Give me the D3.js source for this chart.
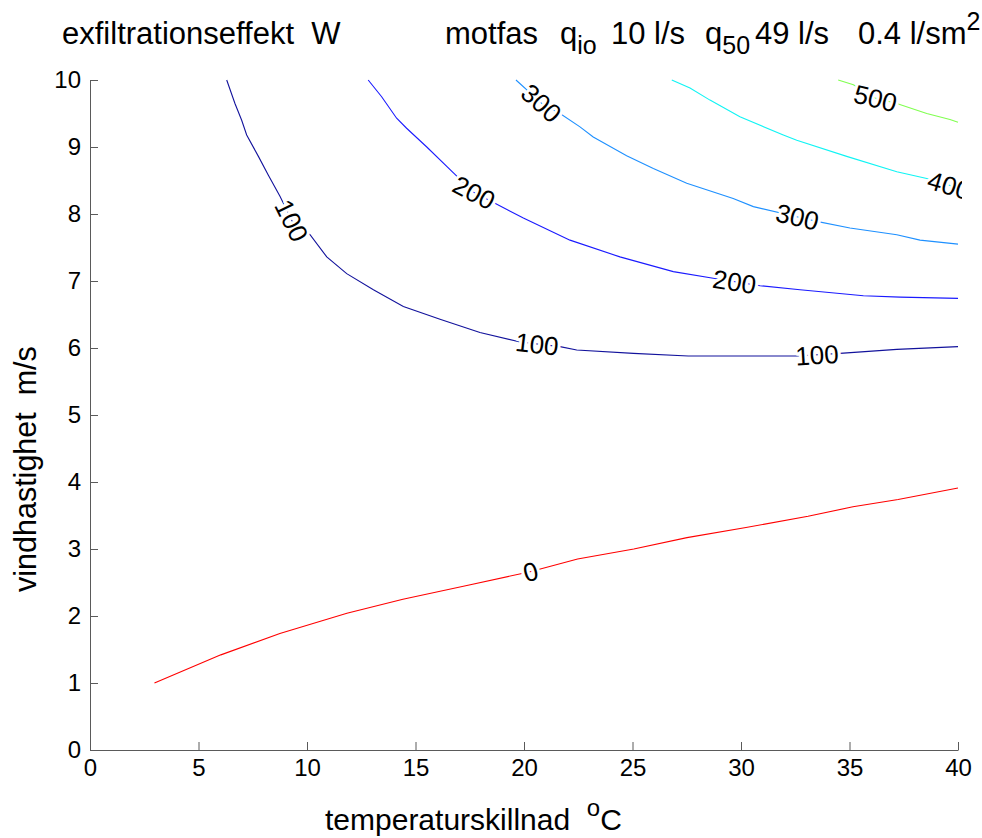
<!DOCTYPE html>
<head>
    <meta charset="utf-8">
    <script type="text/javascript" src="https://d3js.org/d3.v7.min.js"></script>

    <style>
        body { margin: 0; background: #fff; }
        svg text {
            font-family: "Liberation Sans", Arial, sans-serif;
            fill: #000;
        }
        .axis path, .axis line { stroke: #5a5a5a; }
        .clabel {
            font-size: 26px;
            stroke: #fff;
            stroke-width: 6px;
            paint-order: stroke;
            stroke-linejoin: round;
        }
    </style>
</head>
<body>
<svg class="chart" width="982" height="838"></svg>

<script>
    // tick labels
    var xTicks = [0, 5, 10, 15, 20, 25, 30, 35, 40];
    var yTicks = [0, 1, 2, 3, 4, 5, 6, 7, 8, 9, 10];

    // contour levels (W) and their lines, [temperaturskillnad, vindhastighet]
    var levels = [0, 100, 200, 300, 400, 500];

    var line0 = [[2.97, 1.0], [6.03, 1.42], [8.75, 1.74], [11.84, 2.04], [14.42, 2.25],
        [17.42, 2.46], [20.28, 2.66], [22.47, 2.85], [25.06, 3.0], [27.51, 3.17],
        [30.23, 3.32], [33.09, 3.49], [35.16, 3.63], [37.24, 3.74], [40, 3.91]];

    var line100 = [[6.3, 10], [6.68, 9.65], [6.99, 9.4], [7.22, 9.18], [7.76, 8.86],
        [8.22, 8.58], [8.76, 8.26], [9.35, 7.87], [10.14, 7.69], [10.91, 7.36],
        [11.83, 7.11], [13.06, 6.87], [14.44, 6.62], [16.13, 6.43], [17.97, 6.23],
        [19.82, 6.09], [21.66, 6.02], [22.43, 5.97], [25.04, 5.92], [27.57, 5.88],
        [30.11, 5.88], [32.57, 5.88], [34.56, 5.92], [37.18, 5.98], [40, 6.02]];

    var line200 = [[12.82, 10], [13.44, 9.75], [14.13, 9.43], [14.59, 9.28], [15.52, 9.0],
        [16.44, 8.71], [17.65, 8.33], [18.66, 8.16], [19.97, 7.94], [22.12, 7.61],
        [24.42, 7.36], [26.88, 7.14], [28.72, 7.04], [30.88, 6.93], [32.72, 6.87],
        [35.64, 6.78], [37.33, 6.76], [40, 6.74]];

    var line300 = [[19.63, 10], [20.89, 9.63], [21.66, 9.5], [22.58, 9.3], [23.19, 9.15],
        [24.73, 8.87], [25.96, 8.68], [27.5, 8.46], [29.64, 8.23], [30.57, 8.11],
        [32.57, 7.96], [33.49, 7.89], [35.02, 7.79], [37.18, 7.69], [38.25, 7.61],
        [40, 7.55]];

    var line400 = [[26.81, 10], [27.65, 9.88], [28.57, 9.7], [29.95, 9.45], [31.95, 9.18],
        [32.57, 9.1], [34.87, 8.86], [37.18, 8.63], [38.56, 8.53], [40, 8.39]];

    var line500 = [[34.48, 10], [35.18, 9.93], [36.18, 9.73], [37.18, 9.65], [38.56, 9.5],
        [39.63, 9.41], [40, 9.37]];

    // where the inline labels sit (temperaturskillnad)
    var labels0 = [20.3];
    var labels100 = [9.3, 20.6, 33.5];
    var labels200 = [17.7, 29.7];
    var labels300 = [20.8, 32.6];
    var labels400 = [39.6];
    var labels500 = [36.2];

    var contours = [
        { level: 0, pts: line0, at: labels0, color: "#ff0000" },
        { level: 100, pts: line100, at: labels100, color: "#12129c" },
        { level: 200, pts: line200, at: labels200, color: "#1a1aff" },
        { level: 300, pts: line300, at: labels300, color: "#1e90ff" },
        { level: 400, pts: line400, at: labels400, color: "#10f4f4" },
        { level: 500, pts: line500, at: labels500, color: "#80ff50" }
    ];

    // note: "top" is taken by window.top, so use other names
    var pLeft = 90, pRight = 958, pTop = 80, pBottom = 750;

    var x = d3.scaleLinear().domain([0, 40]).range([pLeft, pRight]);
    var y = d3.scaleLinear().domain([0, 10]).range([pBottom, pTop]);

    var svg = d3.select(".chart");

    svg.append("clipPath").attr("id", "plotclip")
        .append("rect")
        .attr("x", pLeft).attr("y", pTop - 12)
        .attr("width", pRight - pLeft + 4).attr("height", pBottom - pTop + 12);

    // axes, ticks pointing inward, no box
    var xAxis = svg.append("g")
        .attr("class", "axis")
        .attr("transform", "translate(0," + pBottom + ")")
        .call(d3.axisBottom(x).tickValues(xTicks).tickSizeInner(-8).tickSizeOuter(0).tickPadding(9));
    xAxis.selectAll("text").style("font-size", "24px").attr("dy", "0.71em");

    var yAxis = svg.append("g")
        .attr("class", "axis")
        .attr("transform", "translate(" + pLeft + ",0)")
        .call(d3.axisLeft(y).tickValues(yTicks).tickSizeInner(-8).tickSizeOuter(0).tickPadding(9));
    yAxis.selectAll("text").style("font-size", "24px");

    var plot = svg.append("g").attr("clip-path", "url(#plotclip)");

    var line = d3.line()
        .x(function(d) { return x(d[0]); })
        .y(function(d) { return y(d[1]); });

    plot.selectAll("path.contour")
        .data(contours)
        .enter().append("path")
        .attr("class", "contour")
        .attr("fill", "none")
        .attr("stroke", function(d) { return d.color; })
        .attr("stroke-width", 1.1)
        .attr("d", function(d) { return line(d.pts); });

    // place a label on the line at a given x, rotated along it
    function labelAt(pts, xv) {
        var i = 1;
        while (i < pts.length - 1 && pts[i][0] < xv) i++;
        var a = pts[i - 1], b = pts[i];
        var t = (xv - a[0]) / (b[0] - a[0]);
        var yv = a[1] + t * (b[1] - a[1]);
        var ang = Math.atan2(y(b[1]) - y(a[1]), x(b[0]) - x(a[0])) * 180 / Math.PI;
        return { px: x(xv), py: y(yv), ang: ang };
    }

    contours.forEach(function(c) {
        c.at.forEach(function(xv) {
            var p = labelAt(c.pts, xv);
            plot.append("text")
                .attr("class", "clabel")
                .attr("text-anchor", "middle")
                .attr("dy", "0.36em")
                .attr("transform", "translate(" + p.px + "," + p.py + ") rotate(" + p.ang + ")")
                .text(c.level);
        });
    });

    // title
    svg.append("text")
        .attr("x", 62).attr("y", 44)
        .style("font-size", "31px")
        .style("white-space", "pre")
        .text("exfiltrationseffekt  W");

    var t2 = svg.append("text")
        .attr("y", 44)
        .style("font-size", "31px")
        .style("white-space", "pre");
    t2.append("tspan").attr("x", 445).text("motfas");
    t2.append("tspan").attr("x", 560).text("q");
    t2.append("tspan").attr("dy", 10).style("font-size", "25px").text("io");
    t2.append("tspan").attr("x", 611).attr("dy", -10).text("10 l/s");
    t2.append("tspan").attr("x", 705).text("q");
    t2.append("tspan").attr("dy", 10).style("font-size", "25px").text("50");
    t2.append("tspan").attr("x", 755).attr("dy", -10).text("49 l/s");
    t2.append("tspan").attr("x", 858).text("0.4 l/sm");
    t2.append("tspan").attr("dy", -14).style("font-size", "25px").text("2");

    // axis labels
    var xl = svg.append("text")
        .attr("x", 325).attr("y", 830)
        .style("font-size", "30px")
        .style("white-space", "pre");
    xl.append("tspan").text("temperaturskillnad  ");
    xl.append("tspan").attr("dy", -14).style("font-size", "24px").text("o");
    xl.append("tspan").attr("dy", 14).text("C");

    svg.append("text")
        .attr("transform", "translate(36,592) rotate(-90)")
        .style("font-size", "30.5px")
        .style("white-space", "pre")
        .text("vindhastighet  m/s");
</script>
</body>
